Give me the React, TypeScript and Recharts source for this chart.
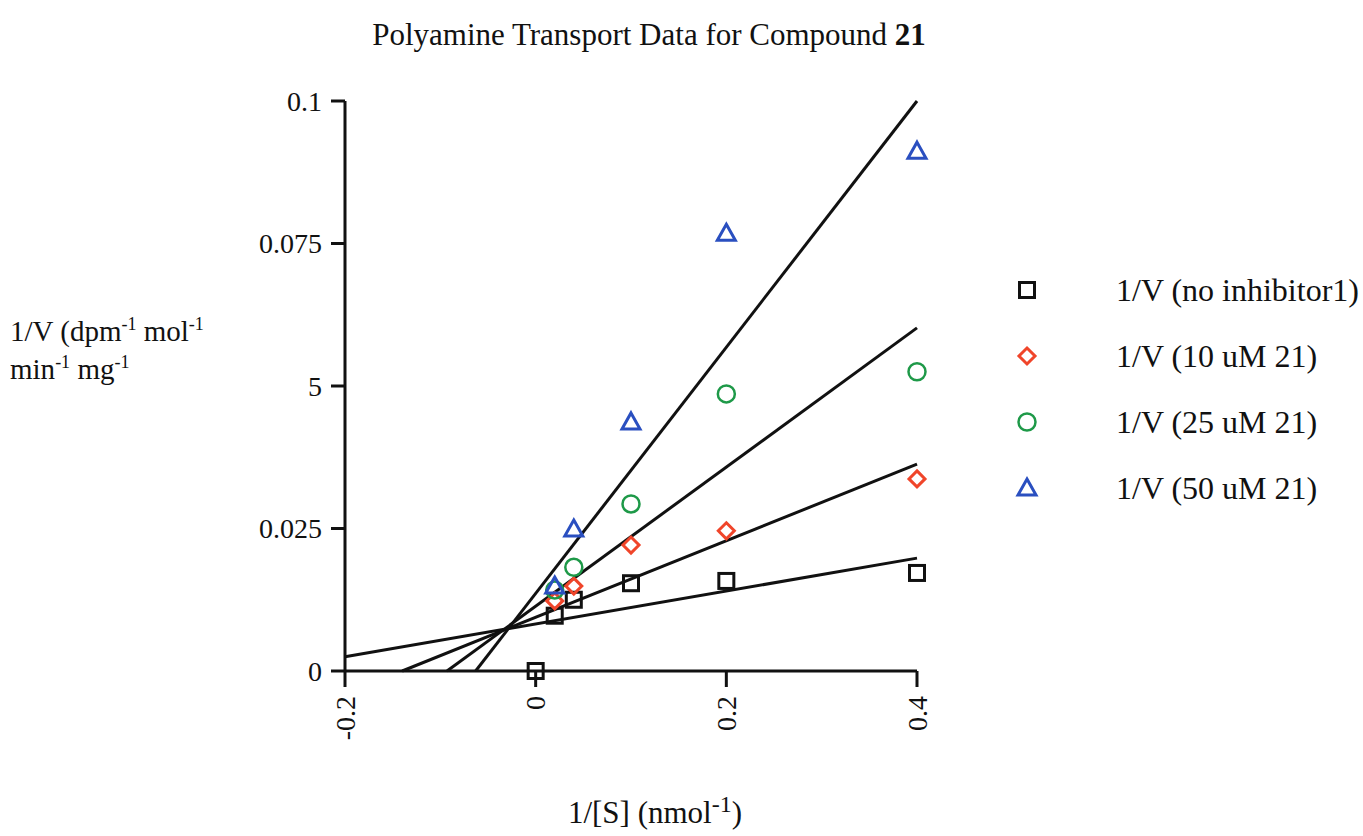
import React from 'react';
import { ComposedChart, Scatter, XAxis, YAxis } from 'recharts';

// 1/[S] values shared by every series
const substrate = [0, 0.02, 0.04, 0.1, 0.2, 0.4];
const noInhibitor = [0, 0.0097, 0.0125, 0.0154, 0.0158, 0.0172];
const inhibX = [0.02, 0.04, 0.1, 0.2, 0.4];
const inhib10 = [0.0123, 0.0149, 0.0221, 0.0246, 0.0337];
const inhib25 = [0.0142, 0.0182, 0.0293, 0.0486, 0.0525];
const inhib50 = [0.0149, 0.0249, 0.0437, 0.0768, 0.0912];

// linear fits, [x, y] end points
const fitNone = [[-0.2, 0.0025], [0.4, 0.0198]];
const fit10 = [[-0.14, 0], [0.4, 0.0363]];
const fit25 = [[-0.093, 0], [0.4, 0.0602]];
const fit50 = [[-0.063, 0], [0.4, 0.1]];

const xTicks = [-0.2, 0, 0.2, 0.4];
const yTicks = [0, 0.025, 0.05, 0.075, 0.1];
const yTickLabels = ['0', '0.025', '5', '0.075', '0.1'];

const legendItems = [
  { label: '1/V (no inhibitor1)', marker: 'square' },
  { label: '1/V (10 uM 21)', marker: 'diamond' },
  { label: '1/V (25 uM 21)', marker: 'circle' },
  { label: '1/V (50 uM 21)', marker: 'triangle' },
];

const toPoints = (xs: number[], ys: number[]) => xs.map((x, i) => ({ x, y: ys[i] }));
const toLine = (pts: number[][]) => pts.map(([x, y]) => ({ x, y }));

const font = '"Liberation Serif", "Times New Roman", serif';
const ink = '#111';

const Marker = ({ kind, cx, cy }: { kind: string; cx: number; cy: number }) => {
  if (kind === 'square')
    return <rect x={cx - 7.5} y={cy - 7.5} width={15} height={15} fill="none" stroke={ink} strokeWidth={3} />;
  if (kind === 'diamond')
    return (
      <polygon
        points={`${cx},${cy - 8} ${cx + 8},${cy} ${cx},${cy + 8} ${cx - 8},${cy}`}
        fill="none"
        stroke="#f0452a"
        strokeWidth={3}
      />
    );
  if (kind === 'circle') return <circle cx={cx} cy={cy} r={8.5} fill="none" stroke="#1e9948" strokeWidth={2.5} />;
  return (
    <polygon
      points={`${cx},${cy - 9} ${cx + 9},${cy + 7} ${cx - 9},${cy + 7}`}
      fill="none"
      stroke="#2a4fc0"
      strokeWidth={3}
    />
  );
};

const shapeFor = (kind: string) => (props: any) => <Marker kind={kind} cx={props.cx} cy={props.cy} />;
const noShape = () => <g />;

const XTick = (props: any) => {
  const { x, y, payload } = props;
  return (
    <g transform={`translate(${x},${y + 7})`}>
      <text transform="rotate(-90)" textAnchor="end" dy="0.35em" fontSize={28} fill={ink} fontFamily={font}>
        {payload.value}
      </text>
    </g>
  );
};

const YTick = (props: any) => {
  const { x, y, payload } = props;
  const idx = yTicks.indexOf(payload.value);
  return (
    <text x={x - 7} y={y} textAnchor="end" dy="0.35em" fontSize={28} fill={ink} fontFamily={font}>
      {yTickLabels[idx]}
    </text>
  );
};

const sup = (size: number) => ({ fontSize: size, lineHeight: 0, verticalAlign: 'super' as const });
const lineStyle = { stroke: ink, strokeWidth: 3 };

const App = () => {
  return (
    <div
      style={{
        position: 'absolute',
        left: 0,
        top: 0,
        width: 1363,
        height: 836,
        overflow: 'hidden',
        background: '#fff',
        fontFamily: font,
        color: ink,
      }}
    >
      <div style={{ position: 'absolute', left: 0, width: 1298, top: 19, lineHeight: '31px', textAlign: 'center', fontSize: 31 }}>
        Polyamine Transport Data for Compound <b>21</b>
      </div>

      <div style={{ position: 'absolute', left: 10, top: 312, fontSize: 29, lineHeight: '38px', whiteSpace: 'nowrap' }}>
        <div>
          1/V (dpm<span style={sup(18)}>-1</span> mol<span style={sup(18)}>-1</span>
        </div>
        <div>
          min<span style={sup(18)}>-1</span> mg<span style={sup(18)}>-1</span>
        </div>
      </div>

      <ComposedChart
        width={1363}
        height={836}
        margin={{ top: 101, right: 446, bottom: 105, left: 265 }}
        style={{ position: 'absolute', left: 0, top: 0 }}
      >
        <XAxis
          type="number"
          dataKey="x"
          domain={[-0.2, 0.4]}
          ticks={xTicks}
          height={60}
          tickSize={16}
          axisLine={{ stroke: ink, strokeWidth: 3 }}
          tickLine={{ stroke: ink, strokeWidth: 3 }}
          tick={<XTick />}
        />
        <YAxis
          type="number"
          dataKey="y"
          domain={[0, 0.1]}
          ticks={yTicks}
          width={80}
          tickSize={14}
          axisLine={{ stroke: ink, strokeWidth: 3 }}
          tickLine={{ stroke: ink, strokeWidth: 3 }}
          tick={<YTick />}
        />
        <Scatter data={toLine(fitNone)} line={lineStyle} shape={noShape} isAnimationActive={false} />
        <Scatter data={toLine(fit10)} line={lineStyle} shape={noShape} isAnimationActive={false} />
        <Scatter data={toLine(fit25)} line={lineStyle} shape={noShape} isAnimationActive={false} />
        <Scatter data={toLine(fit50)} line={lineStyle} shape={noShape} isAnimationActive={false} />
        <Scatter data={toPoints(substrate, noInhibitor)} shape={shapeFor('square')} isAnimationActive={false} />
        <Scatter data={toPoints(inhibX, inhib10)} shape={shapeFor('diamond')} isAnimationActive={false} />
        <Scatter data={toPoints(inhibX, inhib25)} shape={shapeFor('circle')} isAnimationActive={false} />
        <Scatter data={toPoints(inhibX, inhib50)} shape={shapeFor('triangle')} isAnimationActive={false} />
      </ComposedChart>

      <div style={{ position: 'absolute', left: 0, width: 1310, top: 797, lineHeight: '31px', textAlign: 'center', fontSize: 31 }}>
        1/[S] (nmol<span style={sup(24)}>-1</span>)
      </div>

      <div style={{ position: 'absolute', left: 1013, top: 257 }}>
        {legendItems.map((item) => (
          <div key={item.label} style={{ display: 'flex', alignItems: 'center', height: 66, whiteSpace: 'nowrap' }}>
            <svg width={28} height={28} style={{ marginRight: 75 }}>
              <Marker kind={item.marker} cx={14} cy={14} />
            </svg>
            <span style={{ fontSize: 32 }}>{item.label}</span>
          </div>
        ))}
      </div>
    </div>
  );
};

export default App;
